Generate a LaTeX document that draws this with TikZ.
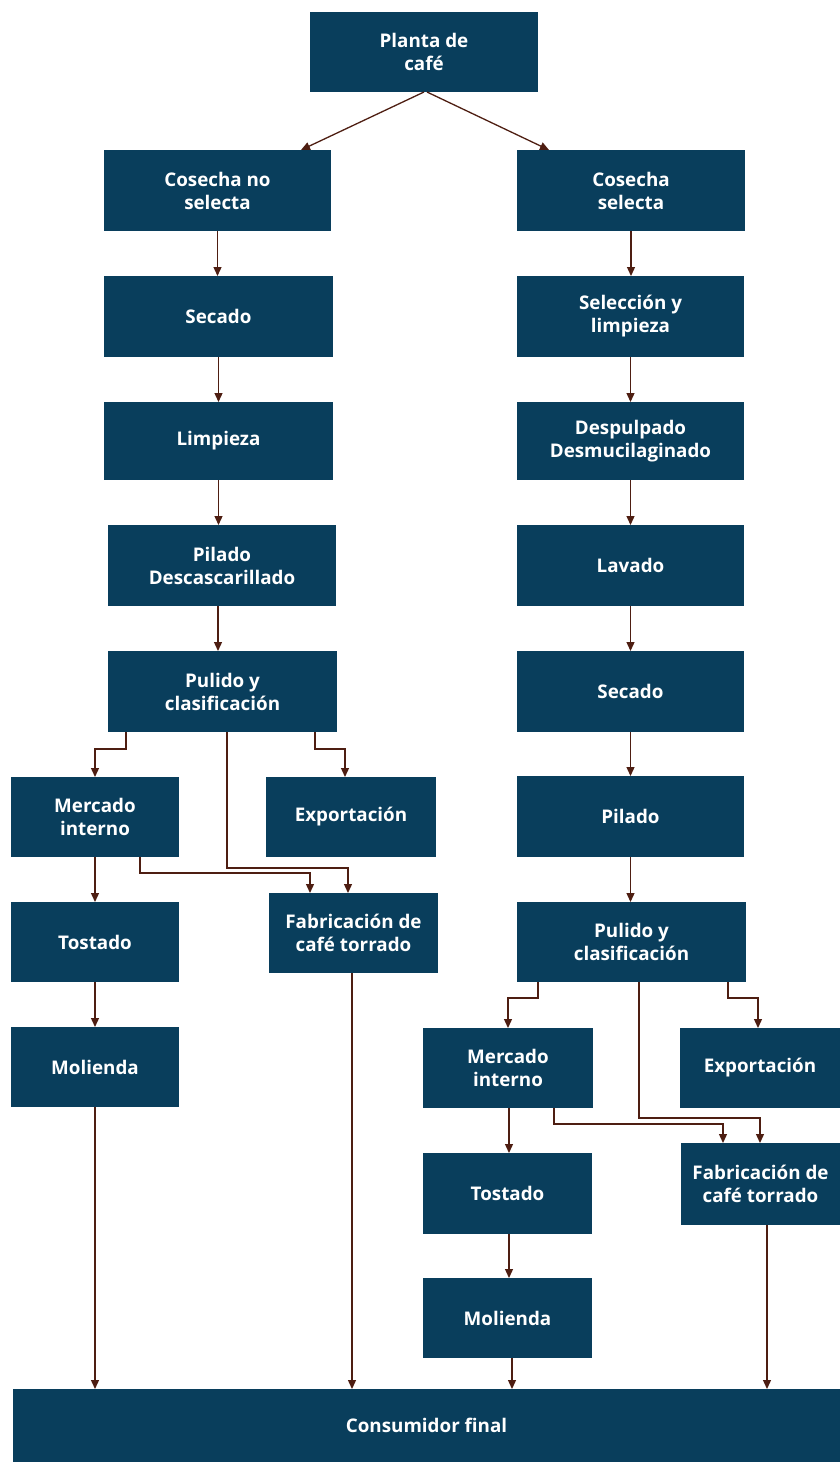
\documentclass[tikz,border=0pt]{standalone}
\usepackage{fontspec}
\setmainfont{Open Sans}
\usetikzlibrary{arrows.meta}
\definecolor{boxblue}{RGB}{9,62,92}
\definecolor{arrbrown}{RGB}{78,30,18}
\begin{document}
\begin{tikzpicture}[x=1pt,y=-1pt,
  box/.style={fill=boxblue, text=white, inner sep=0pt, outer sep=0pt,
    minimum height=80pt, align=center,
    font=\bfseries\fontsize{18.8}{23}\selectfont},
  arr/.style={draw=arrbrown, line width=1.3pt, -{Triangle[length=9pt,width=8pt]}}]
\useasboundingbox (0,0) rectangle (840,1462);
% nodes
\node[box, minimum width=228pt] (planta) at (424,52) {Planta de\\café};
\node[box, minimum width=227pt, minimum height=81pt] (cns) at (217.5,190.5) {Cosecha no\\selecta};
\node[box, minimum width=228pt, minimum height=81pt] (cs) at (631,190.5) {Cosecha\\selecta};
\node[box, minimum width=229pt, minimum height=81pt] (secL) at (218.5,316.5) {Secado};
\node[box, minimum width=229pt, minimum height=78pt] (limL) at (218.5,441) {Limpieza};
\node[box, minimum width=228pt, minimum height=81pt] (pilL) at (222,565.5) {Pilado\\Descascarillado};
\node[box, minimum width=229pt, minimum height=81pt] (pulL) at (222.5,691.5) {Pulido y\\clasificación};
\node[box, minimum width=227pt, minimum height=81pt] (selR) at (630.5,316.5) {Selección y\\limpieza};
\node[box, minimum width=227pt, minimum height=78pt] (despR) at (630.5,441) {Despulpado\\Desmucilaginado};
\node[box, minimum width=227pt, minimum height=81pt] (lavR) at (630.5,565.5) {Lavado};
\node[box, minimum width=227pt, minimum height=81pt] (secR) at (630.5,691.5) {Secado};
\node[box, minimum width=227pt, minimum height=81pt] (pilR) at (630.5,816.5) {Pilado};
\node[box, minimum width=229pt] (pulR) at (631.5,942) {Pulido y\\clasificación};
\node[box, minimum width=168pt] (mercL) at (95,817) {Mercado\\interno};
\node[box, minimum width=170pt] (expL) at (351,817) {Exportación};
\node[box, minimum width=169pt] (fabL) at (353.5,933) {Fabricación de\\café torrado};
\node[box, minimum width=168pt] (tosL) at (95,942) {Tostado};
\node[box, minimum width=168pt] (molL) at (95,1067) {Molienda};
\node[box, minimum width=170pt] (mercR) at (508,1068) {Mercado\\interno};
\node[box, minimum width=160pt] (expR) at (760,1068) {Exportación};
\node[box, minimum width=159pt, minimum height=82pt] (fabR) at (760.5,1184) {Fabricación de\\café torrado};
\node[box, minimum width=169pt, minimum height=81pt] (tosR) at (507.5,1193.5) {Tostado};
\node[box, minimum width=169pt] (molR) at (507.5,1318) {Molienda};
\node[box, minimum width=827pt, minimum height=73pt] (cons) at (426.5,1425.5) {Consumidor final};
% connectors
\draw[arr] (planta.south) -- ([xshift=83.5pt]cns.north);
\draw[arr] ([xshift=3pt]planta.south) -- ([xshift=-82pt]cs.north);
\draw[arr] (cns.south) -- (cns.south |- secL.north);
\draw[arr] (secL.south) -- (secL.south |- limL.north);
\draw[arr] (limL.south) -- (limL.south |- pilL.north);
\draw[arr] ([xshift=-4pt]pilL.south) -- ([xshift=-4pt]pilL.south |- pulL.north);
\draw[arr] (cs.south) -- (cs.south |- selR.north);
\draw[arr] (selR.south) -- (selR.south |- despR.north);
\draw[arr] (despR.south) -- (despR.south |- lavR.north);
\draw[arr] (lavR.south) -- (lavR.south |- secR.north);
\draw[arr] (secR.south) -- (secR.south |- pilR.north);
\draw[arr] (pilR.south) -- (pilR.south |- pulR.north);
% left distribution
\draw[arr] ([xshift=18pt]pulL.south west) -- ++(0,17) -| (mercL.north);
\draw[arr] ([xshift=-22pt]pulL.south east) -- ++(0,17) -| ([xshift=-6pt]expL.north);
\draw[arr] ([xshift=4.5pt]pulL.south) -- ++(0,136) -| ([xshift=-5.5pt]fabL.north);
\draw[arr] ([xshift=-39pt]mercL.south east) -- ++(0,16) -| ([xshift=-43.5pt]fabL.north);
\draw[arr] (mercL.south) -- (mercL.south |- tosL.north);
\draw[arr] (tosL.south) -- (tosL.south |- molL.north);
\draw[arr] (molL.south) -- (molL.south |- cons.north);
\draw[arr] ([xshift=-1.5pt]fabL.south) -- ([xshift=-1.5pt]fabL.south |- cons.north);
% right distribution
\draw[arr] ([xshift=21pt]pulR.south west) -- ++(0,16) -| (mercR.north);
\draw[arr] ([xshift=-18pt]pulR.south east) -- ++(0,16) -| ([xshift=-2pt]expR.north);
\draw[arr] ([xshift=7.5pt]pulR.south) -- ++(0,136) -| ([xshift=-0.5pt]fabR.north);
\draw[arr] ([xshift=-39pt]mercR.south east) -- ++(0,16) -| ([xshift=-37.5pt]fabR.north);
\draw[arr] ([xshift=1pt]mercR.south) -- ([xshift=1pt]mercR.south |- tosR.north);
\draw[arr] ([xshift=1.5pt]tosR.south) -- ([xshift=1.5pt]tosR.south |- molR.north);
\draw[arr] ([xshift=4.5pt]molR.south) -- ([xshift=4.5pt]molR.south |- cons.north);
\draw[arr] ([xshift=6.5pt]fabR.south) -- ([xshift=6.5pt]fabR.south |- cons.north);
\end{tikzpicture}
\end{document}
